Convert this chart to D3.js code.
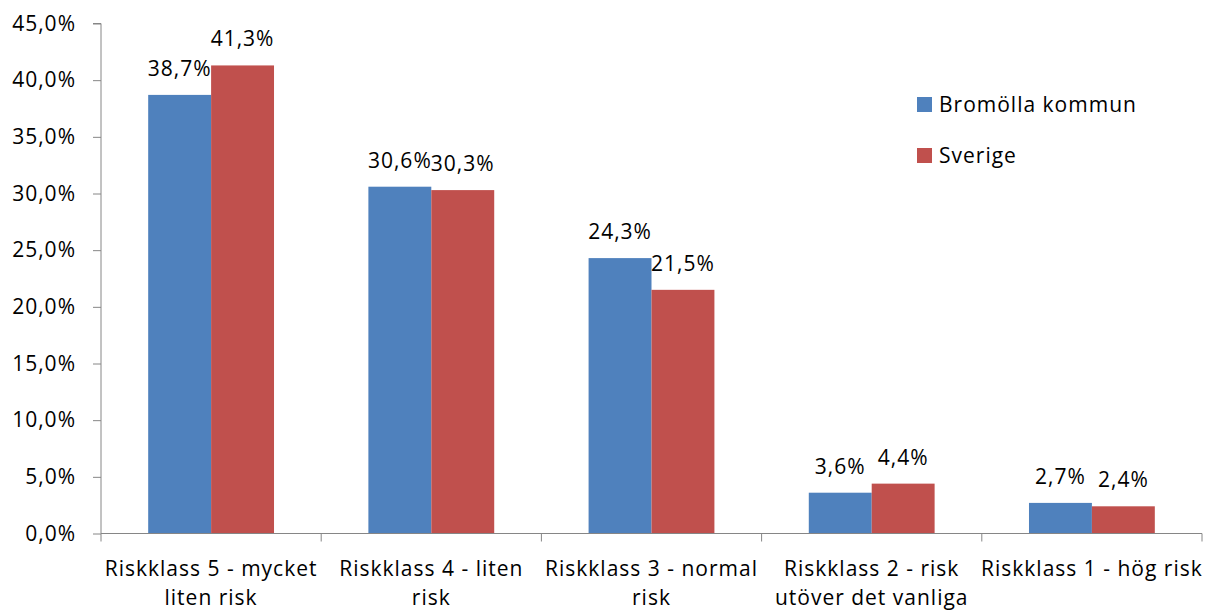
<!DOCTYPE html>
<html><head><meta charset="utf-8">
<script src="https://cdn.jsdelivr.net/npm/d3@7/dist/d3.min.js"></script>
<style>body{margin:0;background:#fff}svg{display:block}text{font-family:"Open Sans",sans-serif;fill:#000;letter-spacing:1px}</style>
</head><body><svg id="c" width="1206" height="612"></svg>
<script>
const categories = [
  ["Riskklass 5 - mycket","liten risk"],
  ["Riskklass 4 - liten","risk"],
  ["Riskklass 3 - normal","risk"],
  ["Riskklass 2 - risk","utöver det vanliga"],
  ["Riskklass 1 - hög risk"]
];
const seriesNames = ["Bromölla kommun","Sverige"];
const bromolla = [38.7,30.6,24.3,3.6,2.7];
const sverige = [41.3,30.3,21.5,4.4,2.4];
const yTicks = [0,5,10,15,20,25,30,35,40,45];
const colors = ["#4F81BD","#C0504D"];

const svg = d3.select("#c");
const x0 = d3.scaleBand().domain(d3.range(categories.length)).range([101,1202]).paddingInner(0).paddingOuter(0);
const x1 = d3.scaleBand().domain([0,1]).range([0,x0.bandwidth()]).paddingInner(0).paddingOuter(0.75);
const y = d3.scaleLinear().domain([0,45]).range([533.5,23.5]);
const fmt = v => v.toFixed(1).replace(".",",") + "%";
const FS = 21;

// y axis
const ya = svg.append("g").attr("transform","translate(101,0)")
  .call(d3.axisLeft(y).tickValues(yTicks).tickFormat(fmt).tickSize(8).tickPadding(17));
ya.select(".domain").attr("stroke","#868686").attr("d","M-8,23.5H0V533.5");
ya.selectAll(".tick line").attr("stroke","#868686");
ya.selectAll(".tick text").attr("font-size",FS).attr("font-family","Open Sans").attr("fill","#000");

// bars
const data = [bromolla, sverige];
data.forEach((vals,s)=>{
  svg.append("g").selectAll("rect").data(vals).join("rect")
    .attr("x",(d,i)=>x0(i)+x1(s)).attr("width",x1.bandwidth())
    .attr("y",d=>y(d)).attr("height",d=>y(0)-y(d))
    .attr("fill",colors[s]);
  svg.append("g").selectAll("text").data(vals).join("text")
    .attr("x",(d,i)=>x0(i)+x1(s)+x1.bandwidth()/2)
    .attr("y",d=>y(d)-19)
    .attr("text-anchor","middle").attr("font-size",FS).text(fmt);
});

// x axis
const xa = svg.append("g").attr("transform","translate(0,533.5)");
xa.append("path").attr("d",`M101,0H1202`).attr("stroke","#868686").attr("fill","none");
xa.selectAll("line").data(d3.range(categories.length+1)).join("line")
  .attr("x1",i=>i<categories.length?x0(i):x0(i-1)+x0.bandwidth())
  .attr("x2",i=>i<categories.length?x0(i):x0(i-1)+x0.bandwidth())
  .attr("y1",0).attr("y2",8).attr("stroke","#868686");
categories.forEach((lines,i)=>{
  const t = svg.append("text").attr("text-anchor","middle").attr("font-size",FS)
    .attr("x",x0(i)+x0.bandwidth()/2).attr("y",576);
  lines.forEach((l,k)=>t.append("tspan").attr("x",x0(i)+x0.bandwidth()/2).attr("dy",k?29:0).text(l));
});

// legend
const lg = svg.append("g");
seriesNames.forEach((n,s)=>{
  lg.append("rect").attr("x",917).attr("y",97+s*51).attr("width",15).attr("height",15).attr("fill",colors[s]);
  lg.append("text").attr("x",939).attr("y",112+s*51).attr("font-size",FS).text(n);
});
</script></body></html>
